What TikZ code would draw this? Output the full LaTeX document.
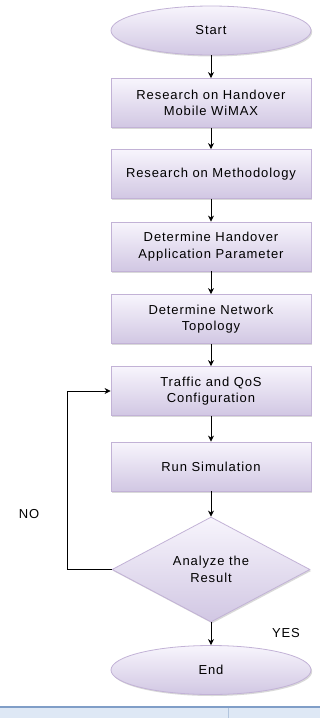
\documentclass[tikz,border=0pt]{standalone}
\usepackage{fontspec}
\setmainfont{Liberation Sans}[LetterSpace=7]
\usepackage{tikz}
\usetikzlibrary{positioning, shapes.geometric, shadows, arrows.meta}
\definecolor{lav1}{rgb}{0.97, 0.96, 0.99}
\definecolor{lav2}{rgb}{0.82, 0.78, 0.89}
\definecolor{lavline}{rgb}{0.76, 0.70, 0.84}
\definecolor{barfill}{rgb}{0.87, 0.91, 0.96}
\definecolor{barline}{rgb}{0.50, 0.62, 0.78}
\tikzset{
  flow/.style = {draw = lavline, line width = 0.8pt, top color = lav1, bottom color = lav2,
    drop shadow = {shadow xshift = 1.2pt, shadow yshift = -1.5pt, fill = black!25, opacity = 0.6},
    align = center, font = \fontsize{13}{16.5}\selectfont},
  task/.style = {flow, rectangle, minimum width = 200pt, minimum height = 49pt},
  term/.style = {flow, ellipse, minimum width = 200pt, minimum height = 49pt},
  check/.style = {flow, diamond, aspect = 1.9, minimum width = 198pt, minimum height = 105pt, inner sep = 0pt},
  lbl/.style = {font = \fontsize{13}{15}\selectfont}
}
\begin{document}
\begin{tikzpicture} [x = 1pt, y = -1pt, on grid]
\useasboundingbox (0,0) rectangle (320,718);
\node (start) [term] at (211,30.5) {Start};
\node (wimax) [task, below = 72.5pt of start] {Research on Handover\\Mobile WiMAX};
\node (method) [task, below = 71pt of wimax] {Research on Methodology};
\node (param) [task, below = 72.5pt of method] {Determine Handover\\Application Parameter};
\node (topo) [task, below = 72.5pt of param] {Determine Network\\Topology};
\node (qos) [task, below = 72pt of topo] {Traffic and QoS\\Configuration};
\node (sim) [task, below = 75.5pt of qos] {Run Simulation};
\node (result) [check, below = 103pt of sim] {Analyze the\\Result};
\node (stop) [term, below = 100.5pt of result] {End};
\draw (29,514) node [lbl] (no) {NO};
\draw (286,633) node [lbl] (yes) {YES};
\path [-{Stealth[length=6pt, width=6pt]}, line width = 0.8pt]
    (start) edge (wimax)
    (wimax) edge (method)
    (method) edge (param)
    (param) edge (topo)
    (topo) edge (qos)
    (qos) edge (sim)
    (sim) edge (result)
    (result) edge (stop);
% back to the configuration step
\draw [-{Stealth[length=6pt, width=6pt]}, line width = 0.8pt] (result.west) -- ++(-44,0) |- (qos.west);
% status bar strip along the bottom
\fill [barfill] (0,707) rectangle (320,718);
\draw [barline, line width = 1.2pt] (0,707) -- (320,707);
\draw [barline!60] (228,708) -- (228,718);
\end{tikzpicture}
\end{document}
